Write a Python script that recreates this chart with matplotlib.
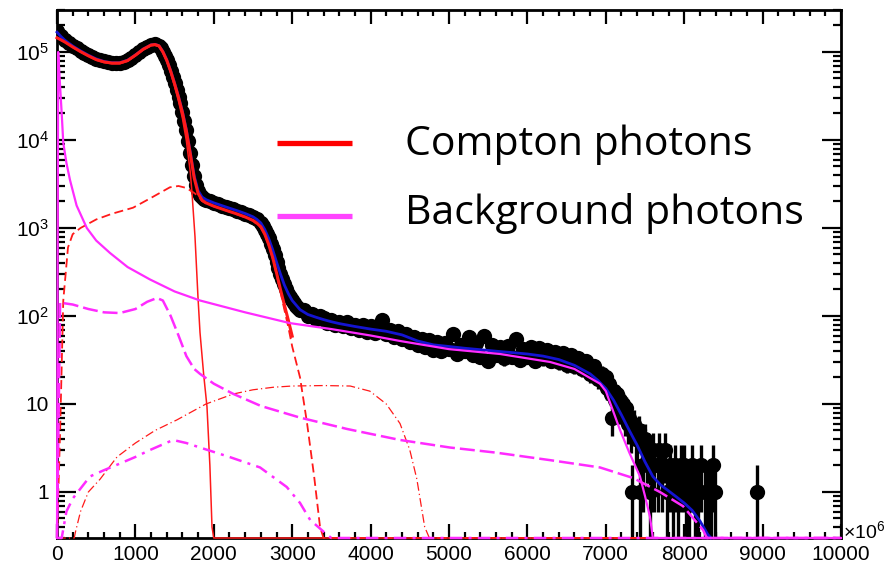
import numpy as np
import matplotlib
matplotlib.use("Agg")
import matplotlib.pyplot as plt
from matplotlib.lines import Line2D
from matplotlib.ticker import FixedLocator, FixedFormatter, MultipleLocator, LogLocator, NullFormatter

# ---------------------------------------------------------------
# values (x axis in units of 10^6)
# ---------------------------------------------------------------
x_ticks = [0, 1000, 2000, 3000, 4000, 5000, 6000, 7000, 8000, 9000, 10000]
x_tick_labels = ["0", "1000", "2000", "3000", "4000", "5000", "6000", "7000", "8000", "9000", "10000"]
y_ticks = [1, 10, 100, 1e3, 1e4, 1e5]
y_tick_labels = ["1", "10", r"$10^{2}$", r"$10^{3}$", r"$10^{4}$", r"$10^{5}$"]

# measured spectrum (bin centre, counts)
data_x = (list(range(0, 1301, 50)) + list(range(1325, 1876, 25)) + list(range(1900, 2601, 50))
          + list(range(2625, 3101, 25)) + list(range(3150, 7000, 50))
          + [7000, 7020, 7040, 7060, 7080, 7100, 7120, 7140, 7160, 7180, 7200, 7220, 7240, 7260,
             7280, 7300, 7320, 7340, 7360, 7380, 7400, 7420, 7440, 7460, 7480, 7500, 7520, 7540,
             7560, 7580, 7600, 7620, 7660, 7680, 7720, 7760, 7780, 7820, 7860, 7880, 7920, 7960,
             8000, 8020, 8060, 8100, 8140, 8180, 8220, 8260, 8300, 8340, 8370, 8390, 8930])
data_y = ([172000, 152000, 137000, 126000, 117000, 110000, 103500, 97000, 92000, 87500, 83500,
           80500, 78000, 76500, 75500, 75000, 75500, 77000, 80500, 85500, 92500, 100000, 108000,
           115000, 120500, 122000, 118000]
          + [111000, 101000, 91000, 81000, 71000, 61000, 52000, 44000, 37000, 31000, 26000, 21000,
             16500, 13000, 9800, 7200, 5200, 3900, 3100, 2650, 2400, 2250, 2150]
          + [2100, 2020, 1930, 1880, 1800, 1740, 1680, 1630, 1570, 1520, 1460, 1400, 1340, 1250, 1140]
          + [1050, 960, 860, 760, 660, 570, 490, 410, 350, 300, 265, 228, 200, 180, 163, 150, 140,
             131, 124, 118]
          + [116, 100, 104, 93, 101, 95, 84, 90, 80, 86, 77, 85, 73, 80, 70, 78, 66,
             76, 64, 72, 90, 62, 70, 58, 68, 55, 63, 50, 58, 47, 55, 44, 53, 41, 51, 40, 49,
             42, 62, 37, 47, 40, 58, 36, 49, 34, 60, 31, 47, 36, 45, 33, 46, 34, 55, 32, 42,
             34, 45, 31, 43, 33, 41, 31, 39, 30, 38, 28, 36, 27, 33, 25, 31, 22, 27, 19, 22]
          + [20, 15, 17, 13, 7, 14, 11, 13, 9, 11, 9, 10, 7, 9, 6, 7, 5, 1, 6, 4,
             4, 5, 1, 4, 2, 4, 3, 3, 1, 2, 3, 2, 2, 3, 2, 3, 1, 2, 1, 2, 1, 2,
             2, 1, 1, 2, 1, 1, 2, 1, 1, 1, 2, 1, 1])

# total fit (blue)
total_fit = [(0, 168000), (50, 150000), (100, 136000), (200, 117000), (300, 103000), (400, 92000),
             (500, 83500), (600, 78000), (700, 75500), (800, 75500), (900, 80500), (1000, 92500),
             (1100, 108000), (1200, 120500), (1250, 122000), (1300, 118000), (1350, 101000),
             (1400, 81000), (1450, 61000), (1500, 44000), (1550, 31000), (1600, 21000),
             (1650, 13000), (1700, 7200), (1750, 3900), (1800, 2650), (1850, 2250), (1900, 2100),
             (2000, 1930), (2100, 1800), (2200, 1680), (2300, 1570), (2400, 1460), (2500, 1340),
             (2550, 1250), (2600, 1140), (2650, 960), (2700, 760), (2750, 570), (2800, 410),
             (2850, 300), (2900, 225), (2950, 180), (3000, 150), (3100, 118), (3200, 104),
             (3300, 97), (3400, 91), (3500, 86), (3600, 82), (3800, 76), (4000, 71), (4200, 67),
             (4400, 61), (4600, 52), (4800, 47), (5000, 45), (5200, 43), (5400, 41.4),
             (5600, 39.8), (5800, 38.4), (6000, 37), (6200, 35), (6400, 32), (6600, 27.5),
             (6800, 22), (6900, 18.5), (7000, 15), (7100, 11), (7200, 7.5), (7300, 5), (7400, 3.4),
             (7500, 2.2), (7600, 1.5), (7700, 1.2), (7800, 1.03), (7900, 0.88), (8000, 0.75),
             (8100, 0.62), (8200, 0.47), (8300, 0.33), (8340, 0)]

# Compton photons, sum (red thick)
compton_sum = [(0, 145000), (100, 130000), (200, 114000), (300, 101000), (400, 90500), (500, 82000),
               (600, 77200), (700, 74900), (800, 75000), (900, 80000), (1000, 92000),
               (1100, 107500), (1200, 120000), (1250, 121500), (1300, 117500), (1350, 100500),
               (1400, 80500), (1450, 60500), (1500, 43500), (1550, 30500), (1600, 20500),
               (1650, 12700), (1700, 7000), (1750, 3700), (1800, 2470), (1850, 2070),
               (1900, 1930), (2000, 1770), (2100, 1650), (2200, 1540), (2300, 1440), (2400, 1335),
               (2500, 1220), (2550, 1135), (2600, 1030), (2650, 850), (2700, 650), (2750, 465),
               (2800, 310), (2850, 200), (2900, 134), (2950, 90), (3000, 59)]

# Compton components
compton_1 = [(0, 145000), (100, 129000), (200, 113000), (300, 100000), (400, 89500), (500, 80700),
             (600, 75800), (700, 73400), (800, 73400), (900, 78300), (1000, 90200), (1100, 105500),
             (1200, 117700), (1250, 119000), (1300, 115000), (1350, 98000), (1400, 77800),
             (1450, 57600), (1500, 40600), (1550, 27500), (1600, 17600), (1650, 9800),
             (1700, 4300), (1722, 2500), (1760, 800), (1798, 165), (1824, 65), (1870, 22),
             (1913, 9.3), (1950, 2), (1977, 0.4), (2000, 0), (10000, 0)]
compton_2 = [(0, 0), (40, 5), (80, 150), (140, 600), (200, 850), (300, 1000), (500, 1250),
             (700, 1450), (970, 1700), (1200, 2200), (1440, 2900), (1550, 3000), (1650, 2850),
             (1750, 2500), (1800, 2300), (1850, 2020), (1900, 1910), (2000, 1760), (2200, 1530),
             (2400, 1320), (2500, 1205), (2600, 1010), (2650, 840), (2700, 635), (2750, 455),
             (2800, 295), (2850, 190), (2900, 118), (2950, 75), (3000, 45), (3050, 30),
             (3100, 20), (3190, 6), (3280, 1.5), (3355, 0.4), (3400, 0), (10000, 0)]
compton_3 = [(0, 0), (220, 0), (235, 0.35), (300, 0.6), (400, 1.0), (550, 1.4), (765, 2.5),
             (1000, 3.6), (1250, 5.0), (1530, 6.6), (1900, 10), (2250, 13), (2500, 14.5),
             (2760, 15.5), (3000, 16), (3400, 16.2), (3740, 16), (3990, 14), (4200, 10),
             (4375, 6), (4500, 3), (4590, 1.4), (4690, 0.4), (4750, 0), (10000, 0)]

# background components (magenta)
background_1 = [(0, 0), (15, 100000), (40, 40000), (60, 20000), (80, 9300), (120, 5500),
                (166, 3500), (250, 1800), (380, 1000), (500, 720), (676, 520), (900, 360),
                (1186, 260), (1500, 190), (1824, 150), (2400, 110), (2970, 83), (3500, 71),
                (4000, 60), (4375, 52), (5000, 42), (5650, 37), (6290, 30), (6600, 25),
                (6926, 17), (7000, 14), (7100, 8), (7180, 5.1), (7300, 2.8), (7436, 1.5),
                (7500, 0.9), (7564, 0.52), (7600, 0), (10000, 0)]
background_2 = [(0, 0), (40, 145), (80, 140), (200, 135), (400, 120), (600, 110), (800, 108),
                (1000, 120), (1150, 145), (1275, 160), (1350, 150), (1450, 100), (1550, 60),
                (1650, 35), (1750, 25), (1824, 22), (2000, 17), (2250, 13), (2600, 9.5),
                (3100, 7), (3700, 5.2), (4375, 3.9), (5013, 3.2), (5600, 2.8), (6290, 2.3),
                (6926, 1.9), (7350, 1.44), (7690, 1.0), (7985, 0.69), (8240, 0.37), (8290, 0.3),
                (8300, 0), (10000, 0)]
background_3 = [(0, 0), (60, 0.3), (120, 0.6), (204, 0.85), (420, 1.5), (587, 1.75), (800, 2.1),
                (1000, 2.5), (1186, 3.0), (1480, 3.9), (1650, 3.6), (1824, 3.2), (2200, 2.5),
                (2590, 1.9), (2930, 1.14), (3100, 0.75), (3230, 0.48), (3440, 0.33), (3500, 0),
                (10000, 0)]

Y_LO, Y_HI = 0.30, 3.0e5
RED = "#ff1a1a"
MAGENTA = "#ff2bff"
BLUE = "#1414d2"

plt.rcParams['font.family'] = 'Liberation Sans'
plt.rcParams['mathtext.fontset'] = 'custom'
plt.rcParams['mathtext.rm'] = 'Liberation Sans'
plt.rcParams['mathtext.it'] = 'Liberation Sans:italic'
plt.rcParams['mathtext.bf'] = 'Liberation Sans:bold'

W, H = 889, 568
fig = plt.figure(figsize=(W / 100, H / 100), dpi=100)
ax = fig.add_axes([57 / W, 1 - 538 / H, (841 - 57) / W, (538 - 10) / H])
ax.set_yscale('log')
ax.set_xlim(0, 10000)
ax.set_ylim(Y_LO, Y_HI)


def curve(pts, **kw):
    # zero bins are drawn on the lower edge, like ROOT does
    x = np.array([p[0] for p in pts], float)
    y = np.array([p[1] for p in pts], float)
    ax.plot(x, np.maximum(y, Y_LO), clip_on=False, **kw)


# data points with poisson errors
dx = np.array(data_x, float)
dy = np.array(data_y, float)
err = np.sqrt(dy)
err_lo = np.minimum(err, dy - 0.05)
ax.errorbar(dx, dy, yerr=[err_lo, err], fmt='o', color='black', ms=11, mew=0,
            elinewidth=2.4, capsize=3.5, capthick=2.4, zorder=2)

curve(total_fit, color=BLUE, lw=2.0, zorder=3.5)
curve(compton_sum, color=RED, lw=2.2, zorder=3.6)
curve(compton_1, color=RED, lw=1.1, zorder=4)
curve(compton_2, color=RED, lw=1.3, dashes=(5, 2.5), zorder=4)
curve(compton_3, color=RED, lw=0.9, dashes=(7, 2.5, 1, 2.5), zorder=4)
curve(background_3, color=MAGENTA, lw=1.8, dashes=(5, 2.5, 1.2, 2.5), zorder=4.1)
curve(background_2, color=MAGENTA, lw=1.8, dashes=(6, 2), zorder=4.1)
curve(background_1, color=MAGENTA, lw=1.6, zorder=4.2)

# axes, ROOT style ticks
ax.xaxis.set_major_locator(FixedLocator(x_ticks))
ax.xaxis.set_major_formatter(FixedFormatter(x_tick_labels))
ax.xaxis.set_minor_locator(MultipleLocator(200))
ax.yaxis.set_major_locator(FixedLocator(y_ticks))
ax.yaxis.set_major_formatter(FixedFormatter(y_tick_labels))
ax.yaxis.set_minor_locator(LogLocator(base=10, subs=np.arange(2, 10), numticks=50))
ax.yaxis.set_minor_formatter(NullFormatter())

ax.tick_params(which='both', direction='in', top=True, right=True, width=1.6,
               labelsize=15, colors='black')
ax.tick_params(axis='x', which='major', length=10, pad=5)
ax.tick_params(axis='x', which='minor', length=4.5)
ax.tick_params(axis='y', which='major', length=14, pad=6)
ax.tick_params(axis='y', which='minor', length=5.5)
for s in ax.spines.values():
    s.set_linewidth(2.0)

ax.text(1.003, 0.0, r"$\times10^{6}$", transform=ax.transAxes, fontsize=14,
        ha='left', va='baseline')

# legend overlaid on the slide
fig.add_artist(Line2D([277 / W, 352 / W], [1 - 143 / H] * 2, color="#ff0000", lw=3.8,
                      solid_capstyle='butt'))
fig.add_artist(Line2D([277 / W, 352 / W], [1 - 216 / H] * 2, color="#ff44ff", lw=3.8,
                      solid_capstyle='butt'))
fig.text(405 / W, 1 - 155 / H, "Compton photons", family="Open Sans", fontsize=29.5,
         va='baseline', ha='left')
fig.text(405 / W, 1 - 224 / H, "Background photons", family="Open Sans", fontsize=29.5,
         va='baseline', ha='left')

fig.savefig("out.png", dpi=100)
